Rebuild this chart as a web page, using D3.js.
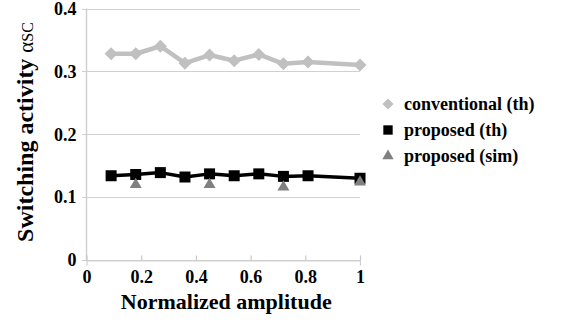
<!DOCTYPE html>
<html>
<head>
<meta charset="utf-8">
<script src="https://cdn.jsdelivr.net/npm/d3@7"></script>
<style>
  html, body { margin: 0; padding: 0; background: #fff; }
  svg text { font-family: "Liberation Serif", "Times New Roman", serif; }
</style>
</head>
<body>
<svg id="chart" width="571" height="322"></svg>
<script>
// Normalized amplitude sample points
const amplitude = [0.09, 0.18, 0.27, 0.36, 0.45, 0.54, 0.63, 0.72, 0.81, 1.0];
// Switching activity, conventional scheme (theory)
const conventionalTh = [0.328, 0.328, 0.340, 0.313, 0.326, 0.317, 0.327, 0.312, 0.315, 0.310];
// Switching activity, proposed scheme (theory)
const proposedTh = [0.134, 0.136, 0.139, 0.132, 0.137, 0.134, 0.137, 0.133, 0.134, 0.130];
// Proposed scheme, simulation
const simAmplitude = [0.18, 0.45, 0.72, 1.0];
const proposedSim = [0.120, 0.120, 0.116, 0.124];

const xTicks = [0, 0.2, 0.4, 0.6, 0.8, 1];
const yTicks = [0, 0.1, 0.2, 0.3, 0.4];
const xTickLabels = ["0", "0.2", "0.4", "0.6", "0.8", "1"];
const yTickLabels = ["0", "0.1", "0.2", "0.3", "0.4"];

const SERIF = "'Liberation Serif', 'Times New Roman', serif";
const svg = d3.select("#chart");

const x = d3.scaleLinear().domain([0, 1]).range([86.5, 360]);
const y = d3.scaleLinear().domain([0, 0.4]).range([260, 8.5]);

// horizontal gridlines
svg.append("g")
  .selectAll("line")
  .data(yTicks)
  .join("line")
  .attr("x1", 82).attr("x2", x(1))
  .attr("y1", d => Math.round(y(d)) + 0.5).attr("y2", d => Math.round(y(d)) + 0.5)
  .attr("stroke", "#d0d0d0").attr("stroke-width", 1.2);

// left axis line
svg.append("line")
  .attr("x1", 86.5).attr("x2", 86.5)
  .attr("y1", y(0.4)).attr("y2", y(0) + 1)
  .attr("stroke", "#d0d0d0").attr("stroke-width", 1.5);

// x-axis
const xAxis = d3.axisBottom(x)
  .tickValues(xTicks)
  .tickFormat((d, i) => xTickLabels[i])
  .tickSize(5)
  .tickPadding(4);
const gx = svg.append("g")
  .attr("transform", `translate(0,${Math.round(y(0)) + 0.5})`)
  .call(xAxis);
gx.select(".domain").attr("stroke", "#d0d0d0").attr("stroke-width", 1.2);
gx.selectAll(".tick line").attr("stroke", "#c8c8c8").attr("stroke-width", 1.2).attr("transform", "translate(0,-5)");
gx.selectAll(".tick text")
  .attr("fill", "#000")
  .style("font-family", SERIF)
  .style("font-weight", "bold")
  .style("font-size", "18px")
  .attr("dy", "0.75em");

// y-axis labels
const yAxis = d3.axisLeft(y)
  .tickValues(yTicks)
  .tickFormat((d, i) => yTickLabels[i])
  .tickSize(0)
  .tickPadding(10);
const gy = svg.append("g").attr("transform", "translate(86.5,0)").call(yAxis);
gy.select(".domain").remove();
gy.selectAll(".tick text")
  .attr("fill", "#000")
  .style("font-family", SERIF)
  .style("font-weight", "bold")
  .style("font-size", "18px");

// axis titles
svg.append("text")
  .attr("x", (x(0) + x(1)) / 2 + 3)
  .attr("y", 309)
  .attr("text-anchor", "middle")
  .style("font-family", SERIF)
  .style("font-weight", "bold")
  .style("font-size", "22px")
  .text("Normalized amplitude");

const yTitle = svg.append("text")
  .attr("transform", "translate(33,132) rotate(-90)")
  .attr("text-anchor", "middle")
  .style("font-family", SERIF)
  .style("font-size", "24px");
yTitle.append("tspan").style("font-weight", "bold").text("Switching activity ");
yTitle.append("tspan").style("font-size", "21px").text("α");
yTitle.append("tspan").style("font-size", "16px").text("SC");

const line = d3.line().x(d => x(d[0])).y(d => y(d[1]));

// conventional (th)
const convData = amplitude.map((a, i) => [a, conventionalTh[i]]);
svg.append("path")
  .datum(convData)
  .attr("d", line)
  .attr("fill", "none")
  .attr("stroke", "#c0c0c0")
  .attr("stroke-width", 4.5)
  .attr("stroke-linejoin", "round");
const diamond = d3.symbol().type(d3.symbolSquare).size(85);
svg.append("g")
  .selectAll("path")
  .data(convData)
  .join("path")
  .attr("d", diamond)
  .attr("transform", d => `translate(${x(d[0])},${y(d[1])}) rotate(45)`)
  .attr("fill", "#c0c0c0");

// proposed (th)
const propData = amplitude.map((a, i) => [a, proposedTh[i]]);
svg.append("path")
  .datum(propData)
  .attr("d", line)
  .attr("fill", "none")
  .attr("stroke", "#000")
  .attr("stroke-width", 3.5)
  .attr("stroke-linejoin", "round");
const square = d3.symbol().type(d3.symbolSquare).size(121);
svg.append("g")
  .selectAll("path")
  .data(propData)
  .join("path")
  .attr("d", square)
  .attr("transform", d => `translate(${x(d[0])},${y(d[1])})`)
  .attr("fill", "#000");

// proposed (sim)
const simData = simAmplitude.map((a, i) => [a, proposedSim[i]]);
const triangle = d3.symbol().type(d3.symbolTriangle).size(62);
svg.append("g")
  .selectAll("path")
  .data(simData)
  .join("path")
  .attr("d", triangle)
  .attr("transform", d => `translate(${x(d[0])},${y(d[1])})`)
  .attr("fill", "#808080");

// legend
const legendItems = [
  { label: "conventional (th)", sym: diamond, rot: 45, color: "#c0c0c0", size: 0.85 },
  { label: "proposed (th)", sym: square, rot: 0, color: "#000", size: 0.85 },
  { label: "proposed (sim)", sym: triangle, rot: 0, color: "#808080", size: 0.95 }
];
const legend = svg.append("g").attr("transform", "translate(388,104)");
legendItems.forEach((it, i) => {
  const g = legend.append("g").attr("transform", `translate(0,${i * 26})`);
  g.append("path")
    .attr("d", it.sym)
    .attr("transform", `rotate(${it.rot}) scale(${it.size})`)
    .attr("fill", it.color);
  g.append("text")
    .attr("x", 16)
    .attr("y", 0)
    .attr("dy", "0.33em")
    .style("font-family", SERIF)
    .style("font-weight", "bold")
    .style("font-size", "18px")
    .attr("fill", "#000")
    .text(it.label);
});
</script>
</body>
</html>
